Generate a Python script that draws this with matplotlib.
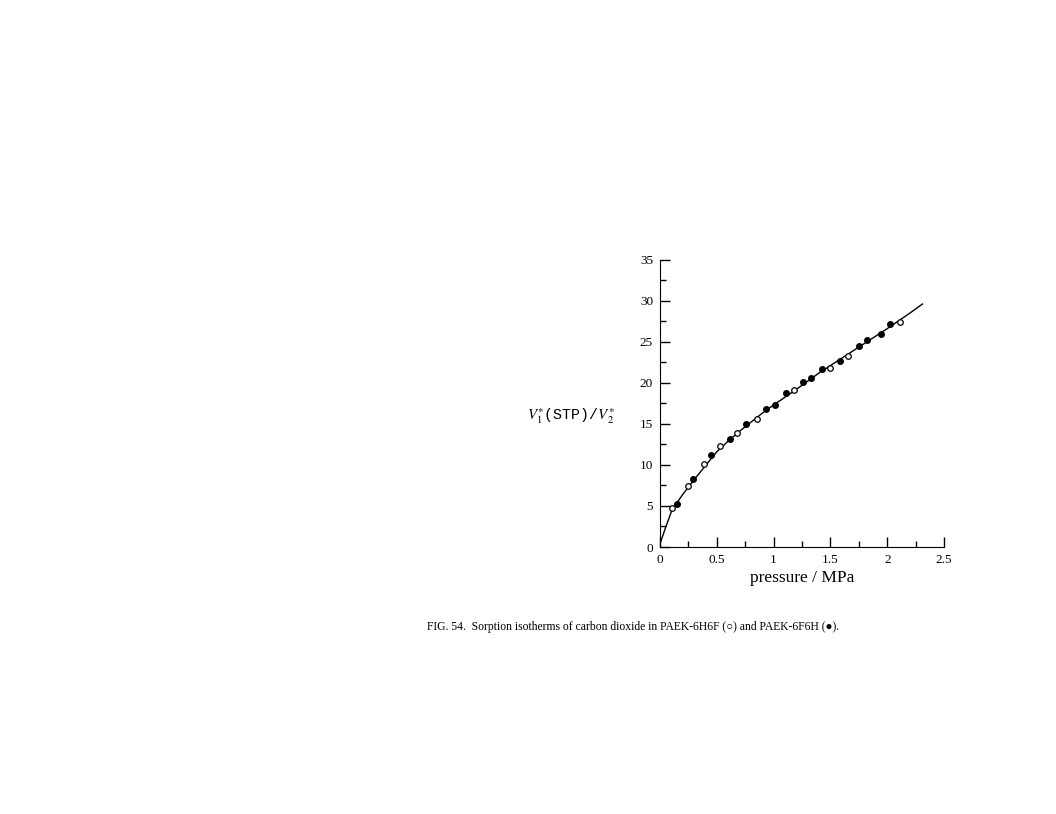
import matplotlib
matplotlib.use("Agg")
import matplotlib.pyplot as plt
from matplotlib.ticker import MultipleLocator, FixedLocator

# PAEK-6H6F (open circles)
p_open = [0.108, 0.25, 0.39, 0.53, 0.676, 0.858, 1.183, 1.50, 1.658, 2.11]
v_open = [4.70, 7.41, 10.06, 12.3, 13.84, 15.55, 19.15, 21.8, 23.27, 27.4]

# PAEK-6F6H (filled circles)
p_fill = [0.147, 0.294, 0.45, 0.62, 0.758, 0.929, 1.008, 1.107, 1.255, 1.329,
          1.426, 1.58, 1.75, 1.82, 1.946, 2.02]
v_fill = [5.18, 8.32, 11.2, 13.1, 15.02, 16.85, 17.26, 18.72, 20.06, 20.6,
          21.65, 22.7, 24.5, 25.2, 26.0, 27.2]

# fitted curve
p_line = [0, 0.05, 0.1, 0.15, 0.2, 0.3, 0.4, 0.5, 0.6, 0.7, 0.8, 0.9, 1.0,
          1.2, 1.4, 1.6, 1.8, 2.0, 2.2, 2.31]
v_line = [0.4, 2.4, 4.3, 5.4, 6.4, 8.2, 9.9, 11.6, 12.9, 14.1, 15.2, 16.3,
          17.3, 19.2, 21.2, 23.0, 24.8, 26.6, 28.5, 29.6]

xticks = [0, 0.5, 1, 1.5, 2, 2.5]
xlabels = ['0', '0.5', '1', '1.5', '2', '2.5']
yticks = [0, 5, 10, 15, 20, 25, 30, 35]

plt.rcParams['mathtext.fontset'] = 'stix'

fig = plt.figure(figsize=(10.56, 8.14), dpi=100)
ax = fig.add_axes([0.625, 0.328, 0.269, 0.353])

ax.plot(p_line, v_line, color='black', lw=1.0)
ax.plot(p_open, v_open, 'o', ms=4, mfc='white', mec='black', mew=0.9)
ax.plot(p_fill, v_fill, 'o', ms=4, mfc='black', mec='black')

ax.set_xlim(0, 2.5)
ax.set_ylim(0, 35)
ax.spines['top'].set_visible(False)
ax.spines['right'].set_visible(False)
ax.xaxis.set_major_locator(FixedLocator(xticks))
ax.set_xticklabels(xlabels)
ax.yaxis.set_major_locator(FixedLocator(yticks))
ax.xaxis.set_minor_locator(MultipleLocator(0.25))
ax.yaxis.set_minor_locator(MultipleLocator(2.5))
ax.tick_params(which='major', direction='in', length=7, width=1, labelsize=9.5, pad=5)
ax.tick_params(which='minor', direction='in', length=4, width=1)
for lab in ax.get_xticklabels() + ax.get_yticklabels():
    lab.set_family('Liberation Serif')

ax.set_xlabel('pressure / MPa', family='Liberation Serif', fontsize=12.5, labelpad=3)
fig.text(0.499, 0.489, r'$V_1^{\ast}$(STP)/$V_2^{\ast}$', family='Liberation Mono',
         fontsize=10.8, ha='left', va='center')

fig.text(0.404, 0.230,
         'FIG. 54.  Sorption isotherms of carbon dioxide in PAEK-6H6F (\u25cb) and PAEK-6F6H (\u25cf).',
         family=['Liberation Serif', 'DejaVu Sans'], fontsize=8.4, ha='left', va='center')

fig.savefig('out.png', dpi=100)
